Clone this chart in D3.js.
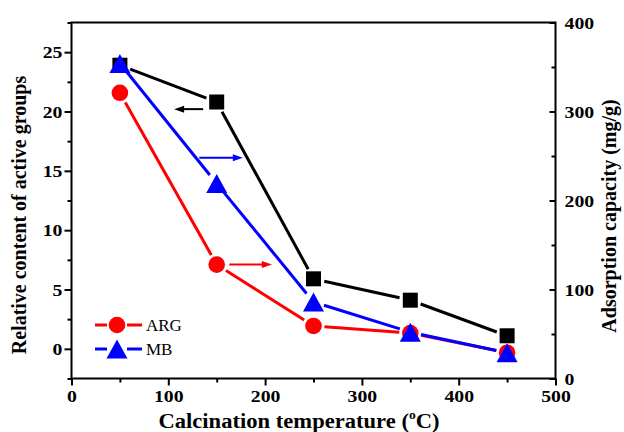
<!DOCTYPE html>
<html>
<head>
<meta charset="utf-8">
<script src="https://cdn.jsdelivr.net/npm/d3@7"></script>
<style>
  body { margin: 0; background: #fff; }
</style>
</head>
<body>
<div id="chart"></div>
<script>
// data
const temps = [50, 150, 250, 350, 450];
const activeGroups = [23.9, 20.8, 5.9, 4.1, 1.1];      // left axis (black squares)
const argCapacity = [321, 128, 59, 51, 29];            // right axis (red circles)
const mbCapacity = [354, 219, 86, 52, 29];             // right axis (blue triangles)

const xTicks = [0, 100, 200, 300, 400, 500];
const yLeftTicks = [0, 5, 10, 15, 20, 25];
const yRightTicks = [0, 100, 200, 300, 400];

const width = 624, height = 432;
const plot = { left: 71.5, right: 555.5, top: 22.5, bottom: 378.5 };
const FONT = "Liberation Serif";
const stretch = 1.13; // the original figure is a bit wider than tall

const svg = d3.select("#chart").append("svg")
  .attr("width", width)
  .attr("height", height)
  .attr("font-family", FONT);

const x = d3.scaleLinear().domain([0, 500]).range([plot.left, plot.right]);
const yL = d3.scaleLinear().domain([-2.5, 27.5]).range([plot.bottom, plot.top]);
const yR = d3.scaleLinear().domain([0, 400]).range([plot.bottom, plot.top]);

// frame
svg.append("rect")
  .attr("x", plot.left).attr("y", plot.top)
  .attr("width", plot.right - plot.left).attr("height", plot.bottom - plot.top)
  .attr("fill", "none").attr("stroke", "#000").attr("stroke-width", 2);

// axes
function styleAxis(g) {
  g.attr("font-family", FONT).attr("font-size", 17.5).attr("font-weight", "bold");
  g.select(".domain").remove();
  g.selectAll("line").attr("stroke", "#000").attr("stroke-width", 2);
  g.selectAll("text").attr("fill", "#000").attr("transform", `scale(${stretch},1)`);
}

// minor ticks first
svg.append("g")
  .attr("transform", `translate(0,${plot.bottom})`)
  .call(d3.axisBottom(x).tickValues(d3.range(50, 500, 100)).tickSize(4).tickFormat(""))
  .call(styleAxis);
svg.append("g")
  .attr("transform", `translate(0,${plot.bottom})`)
  .call(d3.axisBottom(x).tickValues(xTicks).tickSize(7).tickPadding(4).tickFormat(d3.format("d")))
  .call(styleAxis);

svg.append("g")
  .attr("transform", `translate(${plot.left},0)`)
  .call(d3.axisLeft(yL).tickValues([-2.5, 2.5, 7.5, 12.5, 17.5, 22.5, 27.5]).tickSize(4).tickFormat(""))
  .call(styleAxis);
svg.append("g")
  .attr("transform", `translate(${plot.left},0)`)
  .call(d3.axisLeft(yL).tickValues(yLeftTicks).tickSize(7).tickPadding(1).tickFormat(d3.format("d")))
  .call(styleAxis);

svg.append("g")
  .attr("transform", `translate(${plot.right},0)`)
  .call(d3.axisRight(yR).tickValues(d3.range(50, 400, 100)).tickSizeInner(-4).tickFormat(""))
  .call(styleAxis);
svg.append("g")
  .attr("transform", `translate(${plot.right},0)`)
  .call(d3.axisRight(yR).tickValues(yRightTicks).tickSizeInner(-6).tickPadding(8).tickFormat(d3.format("d")))
  .call(styleAxis);

// axis titles
const xTitle = svg.append("text")
  .attr("transform", `translate(299,428) scale(${stretch},1)`)
  .attr("text-anchor", "middle")
  .attr("font-family", FONT).attr("font-weight", "bold").attr("font-size", 20);
xTitle.append("tspan").text("Calcination temperature (");
xTitle.append("tspan").attr("dy", -9).attr("font-size", 12).text("o");
xTitle.append("tspan").attr("dy", 9).text("C)");

svg.append("text")
  .attr("transform", "translate(26,215) rotate(-90)")
  .attr("text-anchor", "middle")
  .attr("font-family", FONT).attr("font-weight", "bold").attr("font-size", 20)
  .text("Relative content of active groups");

svg.append("text")
  .attr("transform", "translate(616,216) rotate(-90)")
  .attr("text-anchor", "middle")
  .attr("font-family", FONT).attr("font-weight", "bold").attr("font-size", 20)
  .text("Adsorption capacity (mg/g)");

// series
const series = [
  { name: "groups", vals: activeGroups, y: yL, color: "#000", shape: "square" },
  { name: "ARG", vals: argCapacity, y: yR, color: "#ff0000", shape: "circle" },
  { name: "MB", vals: mbCapacity, y: yR, color: "#0000ff", shape: "triangle" }
];

function marker(g, shape, cx, cy, color) {
  if (shape === "square") {
    g.append("rect").attr("x", cx - 7.5).attr("y", cy - 7.5)
      .attr("width", 15).attr("height", 15).attr("fill", color);
  } else if (shape === "circle") {
    g.append("circle").attr("cx", cx).attr("cy", cy).attr("r", 8.3).attr("fill", color);
  } else {
    g.append("path")
      .attr("d", `M${cx},${cy - 9.5}L${cx + 10.5},${cy + 9.5}L${cx - 10.5},${cy + 9.5}Z`)
      .attr("fill", color);
  }
}

const gap = 11;
series.forEach(s => {
  const g = svg.append("g");
  const pts = temps.map((t, i) => [x(t), s.y(s.vals[i])]);
  for (let i = 0; i < pts.length - 1; i++) {
    const [x0, y0] = pts[i], [x1, y1] = pts[i + 1];
    const len = Math.hypot(x1 - x0, y1 - y0);
    const ux = (x1 - x0) / len, uy = (y1 - y0) / len;
    g.append("line")
      .attr("x1", x0 + ux * gap).attr("y1", y0 + uy * gap)
      .attr("x2", x1 - ux * gap).attr("y2", y1 - uy * gap)
      .attr("stroke", s.color).attr("stroke-width", 3);
  }
  pts.forEach(p => marker(g, s.shape, p[0], p[1], s.color));
});

// arrows indicating which axis each series belongs to
const arrows = [
  { from: 136, to: 106, val: 20.2, y: yL, color: "#000" },
  { from: 132, to: 177, val: 248, y: yR, color: "#0000ff" },
  { from: 163, to: 207, val: 128, y: yR, color: "#ff0000" }
];
arrows.forEach(a => {
  const x0 = x(a.from), x1 = x(a.to), yy = a.y(a.val);
  const dir = Math.sign(x1 - x0);
  svg.append("line")
    .attr("x1", x0).attr("y1", yy).attr("x2", x1 - dir * 8).attr("y2", yy)
    .attr("stroke", a.color).attr("stroke-width", 2);
  svg.append("path")
    .attr("d", `M${x1},${yy}L${x1 - dir * 10},${yy - 3.5}L${x1 - dir * 10},${yy + 3.5}Z`)
    .attr("fill", a.color);
});

// legend
const legend = [
  { label: "ARG", color: "#ff0000", shape: "circle", y: 325 },
  { label: "MB", color: "#0000ff", shape: "triangle", y: 349 }
];
legend.forEach(l => {
  const g = svg.append("g");
  g.append("line").attr("x1", 95).attr("x2", 107).attr("y1", l.y).attr("y2", l.y)
    .attr("stroke", l.color).attr("stroke-width", 3);
  g.append("line").attr("x1", 127).attr("x2", 142).attr("y1", l.y).attr("y2", l.y)
    .attr("stroke", l.color).attr("stroke-width", 3);
  marker(g, l.shape, 117, l.y, l.color);
  g.append("text").attr("x", 146).attr("y", l.y + 6)
    .attr("font-family", FONT).attr("font-size", 17).attr("fill", "#000")
    .text(l.label);
});
</script>
</body>
</html>
